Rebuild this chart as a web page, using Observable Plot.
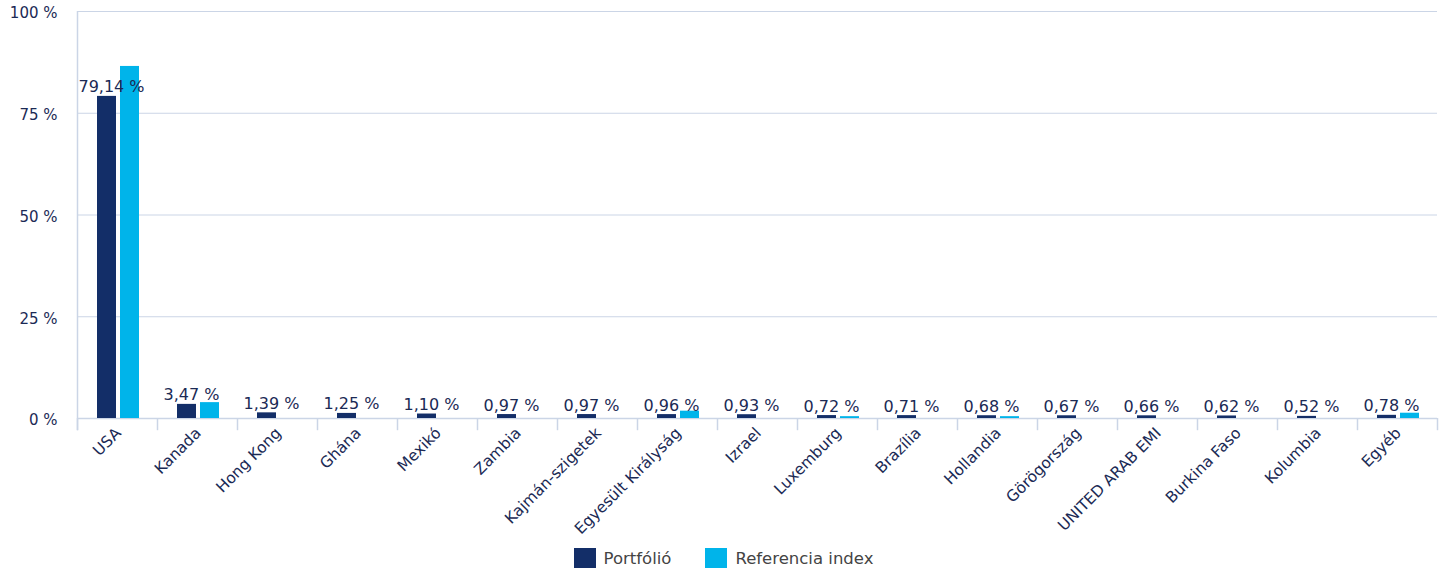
<!DOCTYPE html>
<html><head><meta charset="utf-8">
<script src="https://cdn.jsdelivr.net/npm/d3@7"></script>
<script src="https://cdn.jsdelivr.net/npm/@observablehq/plot@0.6"></script>
<style>
body{margin:0;background:#fff;font-family:"DejaVu Sans",Verdana,sans-serif;}
#legend{display:flex;justify-content:center;align-items:center;height:32px;padding-top:2px;font-size:16.5px;color:#444;}
.item{display:flex;align-items:center;margin:0 17px;}
.sw{width:22px;height:20px;margin-right:8px;}
</style></head>
<body><div id="chart"></div>
<div id="legend"></div>
<script>
const categories = ["USA","Kanada","Hong Kong","Ghána","Mexikó","Zambia","Kajmán-szigetek","Egyesült Királyság","Izrael","Luxemburg","Brazília","Hollandia","Görögország","UNITED ARAB EMI","Burkina Faso","Kolumbia","Egyéb"];
const portfolio = [79.14,3.47,1.39,1.25,1.10,0.97,0.97,0.96,0.93,0.72,0.71,0.68,0.67,0.66,0.62,0.52,0.78];
const reference = [86.5,3.9,0,0,0,0,0,1.8,0,0.45,0,0.45,0,0,0,0,1.3];
const seriesNames = ["Portfólió","Referencia index"];
const colors = ["#132e68","#00b4ea"];
const yTicks = [0,25,50,75,100];

const pData = categories.map((c,i)=>({cat:c, v:portfolio[i]}));
const rData = categories.map((c,i)=>({cat:c, v:reference[i]}));
const fmt = v => v.toFixed(2).replace(".", ",") + " %";
const grid = "#cbd5e6";
const txt = "#1b2a55";

const chart = Plot.plot({
  width: 1447, height: 540,
  marginLeft: 77, marginRight: 10, marginTop: 11, marginBottom: 122,
  style: {fontFamily: '"DejaVu Sans", Verdana, sans-serif', fontSize: "15px", color: txt, background: "white"},
  x: {domain: categories, padding: 0},
  y: {domain: [0,100]},
  marks: [
    Plot.ruleY(yTicks.slice(1), {stroke: grid, strokeWidth: 1}),
    Plot.ruleY([0], {stroke: grid, strokeWidth: 1.5}),
    Plot.ruleX(categories, {x: d=>d, y1: 0, y2: -3, dx: -40, stroke: grid, strokeWidth: 1.5}),
    Plot.ruleX([categories[categories.length-1]], {x: d=>d, y1: 0, y2: -3, dx: 40, stroke: grid, strokeWidth: 1.5}),
    Plot.ruleX([categories[0]], {x: d=>d, y1: -3, y2: 100, dx: -40, stroke: grid, strokeWidth: 1.5}),
    Plot.barY(pData, {x: "cat", y: "v", fill: colors[0], insetLeft: 20, insetRight: 41}),
    Plot.barY(rData, {x: "cat", y: "v", fill: colors[1], insetLeft: 43, insetRight: 18}),
    Plot.text(pData, {x: "cat", y: "v", text: d=>fmt(d.v), dx: -6, dy: -4, lineAnchor: "bottom", fill: txt, fontSize: 16}),
    Plot.axisY({ticks: yTicks, tickFormat: d => d + " %", tickSize: 0, tickPadding: 20, dy: 2, fill: txt, fontSize: 15, label: null}),
    Plot.axisX({tickRotate: -45, tickSize: 0, tickPadding: 12, fill: txt, fontSize: 15.5, label: null, dx: 1})
  ]
});
document.getElementById("chart").appendChild(chart);

const leg = document.getElementById("legend");
seriesNames.forEach((n,i)=>{
  const it = document.createElement("div"); it.className="item";
  const sw = document.createElement("div"); sw.className="sw"; sw.style.background = colors[i];
  const sp = document.createElement("span"); sp.textContent = n;
  it.appendChild(sw); it.appendChild(sp); leg.appendChild(it);
});
</script></body></html>
